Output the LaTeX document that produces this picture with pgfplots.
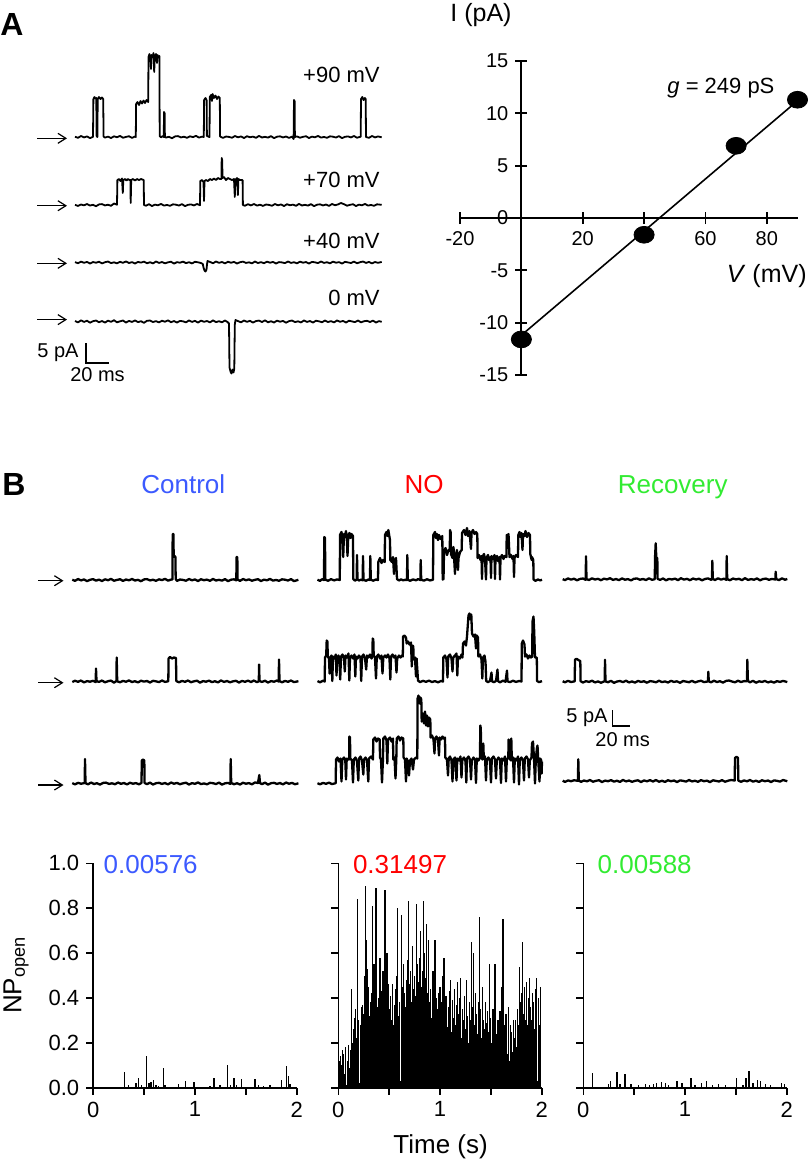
\documentclass[border=0pt]{standalone}
\usepackage{fontspec}
\setmainfont{Liberation Sans}
\usepackage{pgfplots}
\pgfplotsset{compat=1.18}
\usetikzlibrary{arrows.meta}
\definecolor{cblue}{RGB}{60,90,255}
\definecolor{cred}{RGB}{255,0,0}
\definecolor{cgreen}{RGB}{50,235,50}
\pgfplotsset{
  trA/.style={black, line width=0.9pt, line join=round, mark=none},
  trB/.style={black, line width=1.15pt, line join=round, mark=none},
  barax/.style={scale only axis, width=101.7pt, height=112.2pt, anchor=south west,
    xmin=0, xmax=2, ymin=0, ymax=1, enlargelimits=false, clip=false,
    axis x line*=bottom, axis y line*=left, axis line style={line width=0.8pt},
    tick align=outside, major tick length=3.5pt, tick style={black, line width=0.8pt},
    xtick={0,0.5,1,1.5,2}, xticklabels={0,,1,,2}, ytick={0,0.2,0.4,0.6,0.8,1},
    ticklabel style={font=\fontsize{11}{13}\selectfont},
    /pgf/number format/assume math mode=true,
    yticklabel style={/pgf/number format/fixed, /pgf/number format/fixed zerofill, /pgf/number format/precision=1}},
  bars/.style={ycomb, black, line width=0.7pt, mark=none},
}
\tikzset{arr/.style={line width=0.6pt, -{Straight Barb[length=4pt,width=5pt]}}}
\begin{document}
\begin{tikzpicture}[x=0.5pt,y=-0.5pt]
\useasboundingbox (0,0) rectangle (809,1164);

\begin{axis}[at={(0pt,0pt)}, anchor=north west, scale only axis, width=404.5pt, height=582pt,
  xmin=0, xmax=809, ymin=0, ymax=1164, y dir=reverse, hide axis, clip=false, enlargelimits=false]
% ---------- Panel A traces ----------
\addplot[trA] table[row sep=\\, x=x, y expr={137-(\thisrow{o})}] {x o\\
75 0.3\\ 78 -0.8\\ 81 1.0\\ 84 -0.4\\ 87 0.6\\ 90 -1.1\\ 93 0.2\\ 93.4 38\\ 94.5 40\\ 95.5 38.5\\ 96.3 39\\ 96.6 1\\ 97.4 0\\ 97.7 38\\ 99 40\\ 100.5 38\\ 102 39.5\\ 103.2 38\\ 103.6 0.5\\ 105 -0.6\\ 108 0.4\\ 111 -1.0\\ 114 0.7\\ 117 -0.2\\ 120 1.1\\ 123 -0.7\\ 126 0.1\\ 129 0.8\\ 132 -0.9\\ 135 0.5\\ 135.8 0\\ 136.1 33\\ 137.5 35\\ 139 32\\ 140.5 36\\ 142 33.5\\ 143.5 36.5\\ 145 34\\ 146.5 37\\ 148.2 35\\ 148.5 80\\ 149.5 83\\ 150.5 78\\ 151 68\\ 151.5 82\\ 152.5 80\\ 153.5 84\\ 154.2 65\\ 154.8 81\\ 156 83\\ 157 74\\ 157.6 82\\ 158.5 80\\ 159.4 81\\ 159.7 1\\ 161 -0.3\\ 162.5 0.8\\ 163.8 0\\ 164 25\\ 164.6 24\\ 164.9 0\\ 166 -0.5\\ 169 0.2\\ 172 -1.2\\ 175 0.6\\ 178 0.9\\ 181 -0.4\\ 184 0.3\\ 187 -0.8\\ 190 0.7\\ 193 -0.1\\ 196 1.2\\ 199 -0.6\\ 202 0.4\\ 203.8 0\\ 204.1 37\\ 205.5 39\\ 206.6 37\\ 206.9 1\\ 209.5 0\\ 209.8 40\\ 211 42\\ 212 36\\ 212.6 43\\ 214 39\\ 215.5 41.5\\ 217 38\\ 218.5 40.5\\ 219.8 39\\ 220.1 0.5\\ 223 -0.9\\ 226 0.5\\ 229 0.1\\ 232 -0.7\\ 235 1.0\\ 238 -0.3\\ 241 0.6\\ 244 -1.0\\ 247 0.8\\ 250 -0.2\\ 253 0.4\\ 256 -0.8\\ 259 1.1\\ 262 -0.5\\ 265 0.2\\ 268 -0.6\\ 271 0.9\\ 274 -1.1\\ 277 0.3\\ 280 0.7\\ 283 -0.4\\ 286 0.5\\ 289 -0.9\\ 292 0.4\\ 293.6 -2\\ 294 37\\ 294.6 36\\ 294.9 0\\ 297 0.6\\ 300 -0.7\\ 303 0.2\\ 306 0.8\\ 309 -1.0\\ 312 0.4\\ 315 -0.3\\ 318 1.1\\ 321 -0.6\\ 324 0.1\\ 327 -0.8\\ 330 0.7\\ 333 0.3\\ 336 -0.5\\ 339 0.9\\ 342 -1.1\\ 345 0.2\\ 348 0.6\\ 351 -0.4\\ 354 1.0\\ 357 -0.7\\ 360.7 0.3\\ 361 38\\ 362.3 40\\ 363.5 37\\ 364.8 39\\ 365.7 38\\ 366 0\\ 369 -0.8\\ 372 1.0\\ 375 -0.4\\ 378 0.6\\ 381.7 -0.3\\
};
\addplot[trA] table[row sep=\\, x=x, y expr={205-(\thisrow{o})}] {x o\\
75 0.2\\ 78 -0.9\\ 81 0.5\\ 84 -0.3\\ 87 1.0\\ 90 -0.5\\ 93 0.2\\ 96 -1.2\\ 99 0.6\\ 102 0.9\\ 105 -0.4\\ 108 0.3\\ 111 -0.8\\ 114 1.5\\ 117 0.3\\ 117.4 25\\ 119 26\\ 120.5 24\\ 122 26.5\\ 122.8 12\\ 123.3 25\\ 125 26\\ 126.5 24.5\\ 128 26\\ 129.5 25\\ 130.4 25\\ 130.7 2\\ 131.2 25\\ 133 26\\ 135 24.5\\ 137 26\\ 139 25\\ 141 26\\ 143.7 25\\ 144 0\\ 146 -0.7\\ 149 0.8\\ 152 -1.0\\ 155 0.4\\ 158 -0.3\\ 161 1.1\\ 164 -0.6\\ 167 0.1\\ 170 -0.8\\ 173 0.7\\ 176 0.3\\ 179 -0.5\\ 182 0.9\\ 185 -1.1\\ 188 0.2\\ 191 0.6\\ 194 -0.4\\ 197 1.0\\ 200 -0.2\\ 200.3 24\\ 202 25\\ 203.5 23\\ 204 4\\ 204.5 24\\ 206 25\\ 208 24\\ 210 26\\ 212 25\\ 214 26.5\\ 216 25\\ 218 27\\ 220 26\\ 221.4 26\\ 221.7 47\\ 222.2 45\\ 222.5 27\\ 224 28\\ 226 25\\ 228 27\\ 230 26\\ 232 25\\ 234 26\\ 234.8 8\\ 235.3 25\\ 237 27\\ 237.9 10\\ 238.4 26\\ 240 25\\ 242.6 25\\ 242.9 0\\ 245 -0.7\\ 248 0.8\\ 251 -0.4\\ 254 1.0\\ 257 -0.6\\ 260 0.3\\ 263 -0.9\\ 266 0.5\\ 269 0.1\\ 272 -0.7\\ 275 1.0\\ 278 -0.3\\ 281 0.6\\ 284 -1.0\\ 287 0.8\\ 290 -0.2\\ 293 0.4\\ 296 -0.8\\ 299 1.1\\ 302 -0.5\\ 305 0.2\\ 308 -0.6\\ 311 0.9\\ 314 -1.1\\ 317 0.3\\ 320 0.7\\ 323 -0.4\\ 326 0.5\\ 329 -0.9\\ 332 1.0\\ 335 -0.2\\ 338 0.6\\ 341 2.0\\ 344 0.8\\ 347 -0.7\\ 350 0.2\\ 353 0.8\\ 356 -1.0\\ 359 0.4\\ 362 -0.3\\ 365 1.1\\ 368 -0.6\\ 371 0.1\\ 374 -0.8\\ 377 0.7\\ 381.7 0.2\\
};
\addplot[trA] table[row sep=\\, x=x, y expr={262.5-(\thisrow{o})}] {x o\\
75 0.4\\ 78 -0.7\\ 81 0.9\\ 84 -0.3\\ 87 0.6\\ 90 -1.0\\ 93 0.5\\ 96 -0.2\\ 99 0.8\\ 102 -0.9\\ 105 0.3\\ 108 1.0\\ 111 -0.6\\ 114 0.2\\ 117 -0.8\\ 120 0.7\\ 123 -0.3\\ 126 1.1\\ 129 -0.5\\ 132 0.4\\ 135 -1.0\\ 138 0.6\\ 141 -0.1\\ 144 0.9\\ 147 -0.7\\ 150 0.3\\ 153 -0.9\\ 156 1.0\\ 159 -0.4\\ 162 0.5\\ 165 -0.8\\ 168 0.2\\ 171 0.8\\ 174 -1.1\\ 177 0.4\\ 180 -0.2\\ 183 0.9\\ 186 -0.6\\ 189 0.3\\ 192 -0.9\\ 195 0.7\\ 198 0.2\\ 201 -0.5\\ 202.8 -1.5\\ 203.5 -5\\ 204.5 -8\\ 205.5 -9\\ 206.5 -7\\ 207 -2\\ 207.5 1.5\\ 210 0.6\\ 213 -0.7\\ 216 1.0\\ 219 -0.3\\ 222 0.5\\ 225 -0.9\\ 228 0.8\\ 231 -0.2\\ 234 0.6\\ 237 -1.0\\ 240 0.3\\ 243 0.9\\ 246 -0.4\\ 249 0.2\\ 252 -0.8\\ 255 1.0\\ 258 -0.5\\ 261 0.4\\ 264 -0.7\\ 267 0.9\\ 270 -0.2\\ 273 0.6\\ 276 -1.0\\ 279 0.4\\ 282 0.1\\ 285 -0.6\\ 288 1.0\\ 291 -0.4\\ 294 0.3\\ 297 -0.8\\ 300 0.9\\ 303 -0.2\\ 306 0.5\\ 309 -1.0\\ 312 0.6\\ 315 0.2\\ 318 -0.6\\ 321 1.0\\ 324 -0.4\\ 327 0.3\\ 330 -0.8\\ 333 0.9\\ 336 -0.2\\ 339 0.4\\ 342 -1.1\\ 345 0.7\\ 348 0.1\\ 351 -0.5\\ 354 0.9\\ 357 -0.7\\ 360 0.3\\ 363 1.0\\ 366 -0.4\\ 369 0.6\\ 372 -0.9\\ 375 0.5\\ 378 -0.3\\ 381.7 0.6\\
};
\addplot[trA] table[row sep=\\, x=x, y expr={321.5-(\thisrow{o})}] {x o\\
75 0.5\\ 78 -0.9\\ 81 1.2\\ 84 -0.4\\ 87 0.8\\ 90 -1.2\\ 93 0.3\\ 96 1.0\\ 99 -0.7\\ 102 0.5\\ 105 -1.1\\ 108 0.9\\ 111 -0.3\\ 114 1.3\\ 117 -0.8\\ 120 0.2\\ 123 1.0\\ 126 -1.0\\ 129 0.6\\ 132 -0.4\\ 135 1.1\\ 138 -0.6\\ 141 0.3\\ 144 -1.3\\ 147 0.7\\ 150 1.0\\ 153 -0.5\\ 156 0.4\\ 159 -0.9\\ 162 0.8\\ 165 -0.2\\ 168 1.2\\ 171 -0.7\\ 174 0.5\\ 177 -1.0\\ 180 0.6\\ 183 0.2\\ 186 -0.8\\ 189 1.1\\ 192 -0.4\\ 195 0.7\\ 198 -1.1\\ 201 0.9\\ 204 -0.3\\ 207 0.5\\ 210 -0.9\\ 213 1.2\\ 216 -0.6\\ 219 0.3\\ 222 -0.7\\ 225 1.0\\ 227.5 -0.5\\ 229 -2\\ 229.5 -46\\ 230.5 -50\\ 231.5 -52\\ 232.5 -48\\ 233.5 -51\\ 234.3 -47\\ 234.8 -3\\ 235.5 1.5\\ 238 0.4\\ 241 -0.8\\ 244 1.0\\ 247 -0.3\\ 250 0.7\\ 253 -1.1\\ 256 0.5\\ 259 0.9\\ 262 -0.5\\ 265 1.2\\ 268 -0.8\\ 271 0.3\\ 274 -1.0\\ 277 0.9\\ 280 -0.2\\ 283 0.6\\ 286 -1.2\\ 289 0.4\\ 292 1.0\\ 295 -0.6\\ 298 0.2\\ 301 -0.9\\ 304 1.1\\ 307 -0.4\\ 310 0.5\\ 313 -1.0\\ 316 0.8\\ 319 0.2\\ 322 -0.7\\ 325 1.0\\ 328 -0.5\\ 331 0.4\\ 334 -0.9\\ 337 1.1\\ 340 -0.3\\ 343 0.6\\ 346 -1.0\\ 349 0.8\\ 352 0.1\\ 355 -0.6\\ 358 1.0\\ 361 -0.8\\ 364 0.3\\ 367 0.7\\ 370 -0.5\\ 373 0.9\\ 376 -1.0\\ 379 0.4\\ 381.7 -0.3\\
};
% ---------- Panel B traces: Control ----------
\addplot[trB] table[row sep=\\, x=x, y expr={580-(\thisrow{o})}] {x o\\
72.3 0.3\\ 75 -0.8\\ 78 1.0\\ 81 -0.4\\ 84 0.6\\ 87 -1.1\\ 90 0.2\\ 93 0.9\\ 96 -0.6\\ 99 0.4\\ 102 -1.0\\ 105 0.7\\ 108 -0.2\\ 111 1.1\\ 114 -0.7\\ 117 0.1\\ 120 0.8\\ 123 -0.9\\ 126 0.5\\ 129 -0.3\\ 132 1.0\\ 135 -0.5\\ 138 0.2\\ 141 -1.2\\ 144 0.6\\ 147 0.9\\ 150 -0.4\\ 153 0.3\\ 156 -0.8\\ 159 0.7\\ 162 -0.1\\ 165 1.2\\ 168 -0.6\\ 171 0.4\\ 172.4 0.5\\ 172.7 46\\ 173.4 46\\ 173.7 23\\ 174.5 24\\ 175.4 23\\ 175.7 1\\ 177 -0.9\\ 180 0.5\\ 183 0.1\\ 186 -0.7\\ 189 1.0\\ 192 -0.3\\ 195 0.6\\ 198 -1.0\\ 201 0.8\\ 204 -0.2\\ 207 0.4\\ 210 -0.8\\ 213 1.1\\ 216 -0.5\\ 219 0.2\\ 222 -0.6\\ 225 0.9\\ 228 -1.1\\ 231 0.3\\ 234 0.7\\ 236.3 -0.4\\ 236.6 23\\ 237.3 23\\ 237.6 0.5\\ 240 -0.9\\ 243 1.0\\ 246 -0.2\\ 249 0.6\\ 252 -0.7\\ 255 0.2\\ 258 0.8\\ 261 -1.0\\ 264 0.4\\ 267 -0.3\\ 270 1.1\\ 273 -0.6\\ 276 0.1\\ 279 -0.8\\ 282 0.7\\ 285 0.3\\ 288 -0.5\\ 291 0.9\\ 294 -1.1\\ 298.4 0.2\\
};
\addplot[trB] table[row sep=\\, x=x, y expr={681.5-(\thisrow{o})}] {x o\\
72.3 -0.5\\ 75 0.8\\ 78 -0.3\\ 81 1.0\\ 84 -0.9\\ 87 0.4\\ 90 -0.2\\ 93 0.7\\ 95.7 -0.6\\ 96 13\\ 96.5 0.5\\ 99 -0.4\\ 102 1.0\\ 105 -0.8\\ 108 0.3\\ 111 0.9\\ 114 -1.1\\ 116.4 0.5\\ 116.7 24\\ 117.2 0.2\\ 120 -0.7\\ 123 0.6\\ 126 -0.2\\ 129 1.1\\ 132 -0.5\\ 135 0.3\\ 138 -0.9\\ 141 0.8\\ 144 -0.1\\ 147 0.5\\ 150 -1.0\\ 153 0.7\\ 156 0.2\\ 159 -0.6\\ 162 1.0\\ 165 -0.4\\ 168.3 0.3\\ 168.6 23\\ 170 24.5\\ 172 23\\ 174 24\\ 176 23.5\\ 176.3 0.5\\ 179 -0.8\\ 182 0.6\\ 185 -0.3\\ 188 1.0\\ 191 -0.7\\ 194 0.2\\ 197 0.8\\ 200 -1.1\\ 203 0.4\\ 206 -0.2\\ 209 0.9\\ 212 -0.6\\ 215 0.3\\ 218 -0.9\\ 221 1.1\\ 224 -0.4\\ 227 0.5\\ 230 -0.8\\ 233 0.2\\ 236 0.7\\ 239 -1.0\\ 242 0.6\\ 245 -0.3\\ 248 0.9\\ 251 -0.5\\ 254 1.0\\ 257 -0.7\\ 258.8 0.3\\ 259.1 17\\ 259.5 0.5\\ 262 -0.4\\ 265 0.8\\ 268 -1.0\\ 271 0.4\\ 274 -0.2\\ 277 1.0\\ 278.7 0\\ 279 22\\ 279.5 0.5\\ 282 -0.8\\ 285 0.6\\ 288 -0.3\\ 291 1.0\\ 294 -0.6\\ 298.4 0.3\\
};
\addplot[trB] table[row sep=\\, x=x, y expr={783.5-(\thisrow{o})}] {x o\\
72.3 0.4\\ 75 -0.9\\ 78 0.7\\ 81 -0.2\\ 84.7 0.5\\ 85 24.5\\ 85.5 0.4\\ 88 -0.8\\ 91 1.0\\ 94 -0.5\\ 97 0.3\\ 100 -1.1\\ 103 0.6\\ 106 0.9\\ 109 -0.4\\ 112 0.2\\ 115 -0.7\\ 118 1.0\\ 121 -0.3\\ 124 0.5\\ 127 -0.9\\ 130 0.8\\ 133 -0.2\\ 136 0.4\\ 139 -0.8\\ 141.5 0.6\\ 141.8 23\\ 143 24\\ 144.3 23\\ 144.6 0.5\\ 147 -0.6\\ 150 0.9\\ 153 -1.0\\ 156 0.3\\ 159 0.7\\ 162 -0.4\\ 165 0.5\\ 168 -0.9\\ 171 1.0\\ 174 -0.2\\ 177 0.6\\ 180 -0.7\\ 183 0.2\\ 186 0.8\\ 189 -1.0\\ 192 0.4\\ 195 -0.3\\ 198 1.1\\ 201 -0.6\\ 204 0.1\\ 207 -0.8\\ 210 0.7\\ 213 0.3\\ 216 -0.5\\ 219 0.9\\ 222 -1.1\\ 225 0.2\\ 228 0.6\\ 230.4 -0.4\\ 230.7 24.5\\ 231.2 0.6\\ 234 -0.7\\ 237 0.3\\ 240 -1.0\\ 243 0.8\\ 246 -0.2\\ 249 0.4\\ 252 -0.8\\ 255 1.1\\ 258 0.5\\ 259.3 8.5\\ 260 0.4\\ 262 -0.6\\ 265 0.9\\ 268 -1.1\\ 271 0.3\\ 274 0.7\\ 277 -0.4\\ 280 0.5\\ 283 -0.9\\ 286 1.0\\ 289 -0.2\\ 292 0.6\\ 295 -0.7\\ 298.4 0.2\\
};
% ---------- NO ----------
\addplot[trB] table[row sep=\\, x=x, y expr={580-(\thisrow{o})}] {x o\\
317.5 0.3\\ 320 -0.9\\ 322 0.8\\ 324 0\\ 324.3 43\\ 325 42\\ 325.3 0.5\\ 328 -0.8\\ 331 0.9\\ 334 -0.4\\ 337 0.6\\ 339.8 0\\ 340 45\\ 341.5 48\\ 342.5 40\\ 343.2 23\\ 344 46\\ 345 44\\ 346 49\\ 347 38\\ 347.5 24\\ 348.3 45\\ 349.5 47\\ 350.5 42\\ 351.5 46\\ 353 44\\ 353.3 1\\ 355 -0.6\\ 356.7 0.5\\ 357 25\\ 357.5 0.5\\ 359 -0.5\\ 361 0.4\\ 362.7 -0.3\\ 363 24\\ 363.5 0.3\\ 366 -0.8\\ 368.5 0.6\\ 370 0\\ 370.3 24\\ 370.8 0.5\\ 373 -0.7\\ 376 0.5\\ 378 0\\ 378.3 18\\ 380 22\\ 381.5 17\\ 383 20\\ 384.7 18\\ 385 45\\ 386.5 48\\ 387.5 44\\ 388.3 50\\ 389 46\\ 390 40\\ 390.3 20\\ 392 18\\ 393 23\\ 394 6\\ 394.5 19\\ 396 22\\ 397 1\\ 399 -0.5\\ 401 0.7\\ 403 -0.3\\ 405 0.2\\ 407 0\\ 407.3 25\\ 407.8 0.3\\ 410 -0.8\\ 413 0.6\\ 416 -0.3\\ 418 0.9\\ 420.4 0\\ 420.7 20\\ 421.2 0.3\\ 424 -0.6\\ 427 0.8\\ 430 -0.4\\ 433 0.3\\ 433.3 45\\ 435 48\\ 436 42\\ 437 46\\ 438 40\\ 439 45\\ 440.5 41\\ 442.3 44\\ 442.7 0.5\\ 443.5 1\\ 444 28\\ 445.5 32\\ 447 25\\ 448.5 30\\ 449.8 29\\ 450 50\\ 450.6 48\\ 451 26\\ 452.5 22\\ 453.5 33\\ 455 6\\ 455.5 24\\ 457 30\\ 458 10\\ 458.5 22\\ 460 28\\ 461.7 30\\ 462 47\\ 464 50\\ 465.5 45\\ 467 52\\ 468 44\\ 469.5 49\\ 471 31\\ 471.5 47\\ 473 50\\ 474.5 46\\ 476 48\\ 477.3 46\\ 477.6 22\\ 479 25\\ 480.5 20\\ 481.5 24\\ 482 1\\ 482.5 23\\ 484 26\\ 485 21\\ 486 0.5\\ 486.5 22\\ 488 25\\ 489 20\\ 490.5 23\\ 491 2\\ 491.5 24\\ 493 21\\ 494.5 25\\ 495 1\\ 495.5 22\\ 497 24\\ 498 19\\ 499.5 23\\ 500 0.5\\ 500.5 22\\ 502 25\\ 503.5 21\\ 504.5 24\\ 506.5 23\\ 506.7 45\\ 507.5 44\\ 508.5 46\\ 509.5 23\\ 511 25\\ 512.5 21\\ 513.5 24\\ 514 3\\ 514.5 22\\ 516 25\\ 518 23\\ 518.3 45\\ 519.5 48\\ 520.5 43\\ 521.5 47\\ 522.5 30\\ 523 46\\ 524.5 44\\ 525.5 49\\ 527 43\\ 528.5 47\\ 530 45\\ 530.3 26\\ 531.7 20\\ 532 23\\ 533.3 20\\ 533.6 0.5\\ 535.5 -0.8\\ 538 0.6\\ 540 -0.4\\ 542 0.3\\
};
\addplot[trB] table[row sep=\\, x=x, y expr={681.5-(\thisrow{o})}] {x o\\
317.5 0.4\\ 320 -0.7\\ 323 0.8\\ 324.7 0\\ 325 24\\ 326.2 26\\ 326.7 41\\ 327.4 40\\ 327.8 25\\ 329 23\\ 329.6 8\\ 330.2 24\\ 331.5 26\\ 332.3 0.5\\ 333 25\\ 334.5 23\\ 335.8 27\\ 336.5 6\\ 337.2 24\\ 338.5 26\\ 339.5 22\\ 340.2 2\\ 341 25\\ 342.5 27\\ 344 23\\ 344.8 10\\ 345.5 26\\ 347 24\\ 348.5 28\\ 349.3 1\\ 350 24\\ 351.5 26\\ 353 23\\ 354.5 27\\ 355.3 5\\ 356 25\\ 357.5 23\\ 359 26\\ 360.5 24\\ 361.2 0.5\\ 362 25\\ 363.5 27\\ 365 23\\ 366.2 12\\ 367 26\\ 368.5 24\\ 370 27\\ 371.5 23\\ 372.4 25\\ 372.7 43\\ 373.3 42\\ 373.7 26\\ 375 24\\ 376 3\\ 376.8 25\\ 378.3 27\\ 380 23\\ 381.5 26\\ 382.5 8\\ 383.3 24\\ 385 26\\ 386.5 24\\ 388 27\\ 389.5 23\\ 390.3 2\\ 391 25\\ 392.5 27\\ 394 24\\ 395.5 26\\ 396.5 9\\ 397.2 23\\ 399 26\\ 400.5 24\\ 402 26\\ 402.8 25\\ 403.1 45\\ 404.5 46\\ 406 44\\ 406.7 38\\ 408 40\\ 409.5 37\\ 411 39\\ 411.8 15\\ 412.5 36\\ 413.3 35\\ 413.6 22\\ 415 24\\ 416 5\\ 416.6 23\\ 418 1\\ 420 -0.6\\ 423 0.7\\ 426 -0.3\\ 429 0.9\\ 432 -0.5\\ 435 0.4\\ 438 -0.8\\ 441 0.5\\ 443 0\\ 443.3 24\\ 445 26\\ 446.5 22\\ 447.5 4\\ 448.2 25\\ 450 27\\ 451.5 23\\ 452.5 10\\ 453.2 24\\ 455 26\\ 456.5 28\\ 457.3 6\\ 458 25\\ 460 23\\ 461.5 27\\ 462.5 24\\ 463 38\\ 464.5 40\\ 466 36\\ 467 45\\ 468.5 66\\ 469.5 68\\ 470.5 62\\ 471.3 67\\ 472 48\\ 473.5 45\\ 475 47\\ 476 33\\ 476.8 46\\ 478 44\\ 478.4 25\\ 480 27\\ 481.5 22\\ 482.3 3\\ 483 24\\ 484.5 26\\ 485.5 20\\ 486.2 0.5\\ 488 -0.6\\ 490 0.5\\ 491.5 9\\ 492 0.3\\ 494 -0.7\\ 496 0.6\\ 497.5 12\\ 498 0.4\\ 500 -0.8\\ 503 0.9\\ 505.5 -0.3\\ 507 11\\ 507.5 0.2\\ 510 -0.6\\ 513 0.8\\ 516 -0.4\\ 519 0.5\\ 521.5 0\\ 521.8 38\\ 523 41\\ 524.5 37\\ 525 25\\ 526.5 27\\ 528 23\\ 529.5 26\\ 531 24\\ 532.2 25\\ 532.5 60\\ 533.5 65\\ 534.2 50\\ 535 24\\ 536.8 24\\ 537.1 0.5\\ 539 -0.6\\ 542 0.4\\
};
\addplot[trB] table[row sep=\\, x=x, y expr={783.5-(\thisrow{o})}] {x o\\
317.5 0.3\\ 320 -0.8\\ 323 0.6\\ 326 -0.3\\ 329 0.9\\ 332 -0.6\\ 335.7 0.4\\ 336 24\\ 337.5 26\\ 339 22\\ 340.5 25\\ 341.5 2\\ 342.3 24\\ 344 26\\ 345.3 23\\ 346 4\\ 346.7 25\\ 348.5 24\\ 349.2 24\\ 349.4 47\\ 350 46\\ 350.3 25\\ 352 23\\ 353 1\\ 353.8 24\\ 355.5 26\\ 357 22\\ 358.3 3\\ 359 25\\ 360.5 27\\ 362 23\\ 363.3 9\\ 364 24\\ 365.5 26\\ 367 23\\ 368.3 2\\ 369 25\\ 371 27\\ 373 24\\ 373.3 44\\ 375 46\\ 376.5 42\\ 378 45\\ 379.7 44\\ 380 26\\ 381 24\\ 382 1\\ 383 25\\ 383.3 45\\ 385 47\\ 386.5 43\\ 387.3 20\\ 388 44\\ 390 46\\ 391.5 42\\ 393 45\\ 393.3 24\\ 394.5 26\\ 395.5 5\\ 396.3 24\\ 396.7 45\\ 398.5 47\\ 400 43\\ 401.5 46\\ 403.3 45\\ 403.6 26\\ 405 24\\ 406 2\\ 406.7 25\\ 408 22\\ 409 8\\ 410 23\\ 411.5 25\\ 413 14\\ 414 24\\ 416 26\\ 417.3 25\\ 417.6 85\\ 418.5 88\\ 419.5 80\\ 420.5 86\\ 421.3 84\\ 421.7 62\\ 423 70\\ 424 60\\ 425 72\\ 426 58\\ 427 68\\ 428 57\\ 429 66\\ 430.3 64\\ 430.6 46\\ 432 48\\ 433.5 44\\ 434.5 30\\ 435 45\\ 436.5 47\\ 438 43\\ 439 28\\ 439.6 46\\ 441 44\\ 442.5 47\\ 443.5 45\\ 445 46\\ 445.3 26\\ 447 24\\ 448 8\\ 448.7 25\\ 450 27\\ 451.5 23\\ 452.5 2\\ 453.3 24\\ 455 26\\ 456.5 3\\ 457.3 25\\ 459 23\\ 460.5 27\\ 461.5 6\\ 462.3 24\\ 464 26\\ 465.5 22\\ 466.3 1\\ 467 25\\ 468.5 27\\ 470 24\\ 471 4\\ 471.8 23\\ 473.5 26\\ 475 24\\ 476 0.5\\ 476.8 25\\ 478.5 23\\ 480 26\\ 480.3 58\\ 480.8 55\\ 481.2 26\\ 482.5 24\\ 483.3 40\\ 483.8 25\\ 485 27\\ 486 3\\ 486.8 24\\ 488.5 26\\ 490 22\\ 491 1\\ 491.8 25\\ 493.5 27\\ 495 24\\ 496 5\\ 496.8 23\\ 498.5 26\\ 500 24\\ 501 0.5\\ 501.8 25\\ 503.5 23\\ 505 27\\ 506 2\\ 506.8 24\\ 508.3 26\\ 508.6 44\\ 509.2 42\\ 509.6 25\\ 511 23\\ 511.3 45\\ 511.8 24\\ 513 26\\ 514 1\\ 514.8 25\\ 516.5 23\\ 518 27\\ 519 -1\\ 519.8 24\\ 521.5 26\\ 523 22\\ 524 3\\ 524.8 25\\ 526.5 27\\ 528 24\\ 529 6\\ 529.8 23\\ 531.5 26\\ 532 40\\ 533 42\\ 534 25\\ 535 0\\ 535.8 24\\ 537 36\\ 537.5 38\\ 538.2 24\\ 539.5 2\\ 540.2 25\\ 541.3 23\\ 541.6 10\\ 542 22\\
};
% ---------- Recovery ----------
\addplot[trB] table[row sep=\\, x=x, y expr={579.3-(\thisrow{o})}] {x o\\
562.7 0.2\\ 565 -0.8\\ 568 0.9\\ 571 -0.3\\ 574 0.6\\ 577 -1.0\\ 580 0.4\\ 583 0.8\\ 585.7 -0.5\\ 586 23\\ 586.5 0.3\\ 589 -0.7\\ 592 1.0\\ 595 -0.2\\ 598 0.5\\ 601 -0.9\\ 604 0.7\\ 607 -0.1\\ 610 1.1\\ 613 -0.6\\ 616 0.3\\ 619 -0.8\\ 622 0.9\\ 625 -0.4\\ 628 0.2\\ 631 -1.1\\ 634 0.6\\ 637 0.8\\ 640 -0.4\\ 643 0.3\\ 646 -0.7\\ 649 1.0\\ 652 -0.5\\ 654.8 0.2\\ 655 21\\ 655.7 36\\ 656.3 22\\ 657.3 21\\ 657.6 0.5\\ 660 -0.6\\ 663 0.9\\ 666 -1.0\\ 669 0.4\\ 672 -0.2\\ 675 0.7\\ 678 -0.8\\ 681 1.1\\ 684 -0.3\\ 687 0.5\\ 690 -0.9\\ 693 0.8\\ 696 -0.2\\ 699 0.6\\ 702 -1.0\\ 705 0.3\\ 708 0.9\\ 711 -0.4\\ 712 0\\ 712.3 18.6\\ 712.8 0.4\\ 715 -0.7\\ 718 1.0\\ 721 -0.3\\ 724 0.6\\ 726.4 -0.5\\ 726.7 23.3\\ 727.2 0.2\\ 730 -0.9\\ 733 0.8\\ 736 -0.1\\ 739 0.5\\ 742 -0.8\\ 745 1.1\\ 748 -0.6\\ 751 0.2\\ 754 -0.4\\ 757 0.9\\ 760 -1.0\\ 763 0.3\\ 766 0.7\\ 769 -0.5\\ 772 0.4\\ 775.4 -0.2\\ 775.7 7.6\\ 776.2 0.3\\ 779 -0.8\\ 782 1.0\\ 785 -0.4\\ 787.3 0.3\\
};
\addplot[trB] table[row sep=\\, x=x, y expr={681.7-(\thisrow{o})}] {x o\\
562.7 0.5\\ 565 -0.6\\ 568 0.9\\ 571 -0.3\\ 574.7 0.4\\ 575 22\\ 576.5 23\\ 578 22\\ 579.5 21\\ 580.3 21\\ 580.6 0.5\\ 583 -0.8\\ 586 0.6\\ 589 -0.2\\ 592 1.0\\ 595 -0.7\\ 598 0.3\\ 601 -1.0\\ 604.7 0.5\\ 605 22\\ 605.5 0.3\\ 608 -0.5\\ 611 0.9\\ 614 -1.1\\ 617 0.2\\ 620 0.7\\ 623 -0.4\\ 626 1.0\\ 629 -0.7\\ 632 0.3\\ 635 -0.9\\ 638 0.8\\ 641 -0.2\\ 644 0.5\\ 647 -1.0\\ 650 0.6\\ 653 0.2\\ 656 -0.6\\ 659 1.0\\ 662 -0.4\\ 665 0.3\\ 668 -0.8\\ 671 0.9\\ 674 -0.2\\ 677 0.4\\ 680 -1.1\\ 683 0.7\\ 686 0.1\\ 689 -0.5\\ 692 0.9\\ 695 -0.7\\ 698 0.3\\ 701 1.0\\ 704 -0.4\\ 708 0.3\\ 708.3 10\\ 708.8 0.4\\ 711 -0.6\\ 714 1.0\\ 717 -0.3\\ 720 0.5\\ 723 -0.9\\ 726 0.8\\ 729 1.2\\ 732 0.2\\ 735 -0.6\\ 738 1.0\\ 741 -0.3\\ 744 0.6\\ 747 0.5\\ 747.3 22\\ 747.9 0.8\\ 750 -0.6\\ 753 0.9\\ 756 -1.0\\ 759 0.4\\ 762 -0.2\\ 765 0.8\\ 768 -0.7\\ 771 0.3\\ 774 -0.9\\ 777 0.6\\ 780 -0.2\\ 783 0.8\\ 787.3 -0.3\\
};
\addplot[trB] table[row sep=\\, x=x, y expr={781-(\thisrow{o})}] {x o\\
562.7 0.3\\ 565 -0.9\\ 568 0.6\\ 571 -0.2\\ 574 0.8\\ 577.9 0.2\\ 578.3 21.7\\ 578.8 0.4\\ 581 -0.8\\ 584 0.5\\ 587 -0.3\\ 590 1.0\\ 593 -0.7\\ 596 0.2\\ 599 0.8\\ 602 -1.0\\ 605 0.4\\ 608 -0.2\\ 611 0.9\\ 614 -0.6\\ 617 0.3\\ 620 -0.9\\ 623 1.1\\ 626 -0.4\\ 629 0.5\\ 632 -0.8\\ 635 0.2\\ 638 0.7\\ 641 -1.0\\ 644 0.6\\ 647 -0.3\\ 650 0.9\\ 653 -0.5\\ 656 1.0\\ 659 -0.7\\ 662 0.3\\ 665 -0.9\\ 668 0.8\\ 671 -0.2\\ 674 0.5\\ 677 -1.0\\ 680 0.6\\ 683 0.2\\ 686 -0.6\\ 689 1.0\\ 692 -0.4\\ 695 0.3\\ 698 -0.8\\ 701 0.9\\ 704 -0.2\\ 707 0.4\\ 710 -1.1\\ 713 0.7\\ 716 0.1\\ 719 -0.5\\ 722 0.9\\ 725 -0.7\\ 728 0.3\\ 731 1.0\\ 734.7 0.5\\ 735 23\\ 736.5 24.3\\ 738 23\\ 738.3 0.5\\ 741 -0.8\\ 744 0.6\\ 747 -0.3\\ 750 1.0\\ 753 -0.6\\ 756 0.3\\ 759 -0.9\\ 762 0.8\\ 765 -0.2\\ 768 0.5\\ 771 -1.0\\ 774 0.6\\ 777 0.2\\ 780 -0.6\\ 783 1.0\\ 787.3 -0.2\\
};
% ---------- scale bars ----------
\addplot[black, line width=0.8pt, mark=none] coordinates {(86,343) (86,363) (109,363)};
\addplot[black, line width=0.8pt, mark=none] coordinates {(612.3,710) (612.3,726) (630,726)};
% ---------- arrows ----------
\draw[arr] (axis cs:37,138.3) -- (axis cs:67,138.3);
\draw[arr] (axis cs:37,205.7) -- (axis cs:67,205.7);
\draw[arr] (axis cs:37,263.3) -- (axis cs:67,263.3);
\draw[arr] (axis cs:37,319.6) -- (axis cs:67,319.6);
\draw[arr] (axis cs:38,580.7) -- (axis cs:63.5,580.7);
\draw[arr] (axis cs:38,682.7) -- (axis cs:63.5,682.7);
\draw[arr] (axis cs:38,785) -- (axis cs:63.5,785);
\end{axis}

% ---------- I-V plot ----------
\begin{axis}[at={(230pt,-187.5pt)}, anchor=south west, scale only axis, width=168.75pt, height=157pt,
  xmin=-20, xmax=90, ymin=-15, ymax=15, enlargelimits=false, clip=false,
  axis lines=middle, axis line style={line width=0.9pt, -},
  xtick={-20,20,40,60,80}, xticklabels={-20,20,,60,80},
  ytick={-15,-10,-5,0,5,10,15}, hide obscured y ticks=false, hide obscured x ticks=false,
  tick align=center, major tick length=6pt, tick style={black, line width=0.9pt},
  ticklabel style={font=\fontsize{10}{12}\selectfont},
  /pgf/number format/assume math mode=true]
\addplot[black, line width=0.8pt, mark=none] coordinates {(0,-11.2) (90,11.2)};
\addplot[only marks, mark=*, mark size=4.2pt, mark options={xscale=1.2, fill=black, draw=black}] coordinates {(0,-11.6) (40,-1.6) (70,6.9) (90,11.3)};
\end{axis}

% ---------- NPopen bar plots ----------
\begin{axis}[barax, at={(46.65pt,-543.85pt)}]
\addplot[bars] table[row sep=\\] {t v\\
0.305 0.068\\ 0.344 0.01\\ 0.42 0.02\\ 0.443 0.045\\ 0.475 0.01\\ 0.525 0.14\\ 0.548 0.02\\ 0.567 0.025\\ 0.59 0.035\\ 0.616 0.01\\ 0.64 0.006\\ 0.69 0.09\\ 0.705 0.012\\ 0.836 0.015\\ 0.908 0.032\\ 0.99 0.025\\ 1.105 0.005\\ 1.148 0.006\\ 1.187 0.045\\ 1.246 0.01\\ 1.318 0.1\\ 1.35 0.01\\ 1.384 0.045\\ 1.41 0.012\\ 1.46 0.04\\ 1.59 0.038\\ 1.623 0.01\\ 1.672 0.008\\ 1.738 0.01\\ 1.852 0.035\\ 1.9 0.097\\ 1.918 0.05\\ 1.934 0.015\\
};
\end{axis}
\begin{axis}[barax, at={(169.15pt,-543.85pt)}, yticklabels={}]
\addplot[bars, line width=0.62pt] table[row sep=\\] {t v\\
0.00 0.16\\ 0.01 0.12\\ 0.02 0.14\\ 0.03 0.10\\ 0.04 0.17\\ 0.05 0.15\\ 0.06 0.06\\ 0.07 0.18\\ 0.08 0.01\\ 0.09 0.12\\
0.10 0.19\\ 0.11 0.09\\ 0.12 0.17\\ 0.13 0.44\\ 0.14 0.20\\ 0.15 0.26\\ 0.16 0.31\\ 0.17 0.35\\ 0.18 0.22\\ 0.19 0.84\\
0.20 0.30\\ 0.21 0.02\\ 0.22 0.28\\ 0.23 0.36\\ 0.24 0.37\\ 0.25 0.33\\ 0.26 0.50\\ 0.27 0.90\\ 0.28 0.66\\ 0.29 0.53\\
0.30 0.45\\ 0.31 0.32\\ 0.32 0.38\\ 0.33 0.42\\ 0.34 0.81\\ 0.35 0.55\\ 0.36 0.48\\ 0.37 0.89\\ 0.38 0.08\\ 0.39 0.36\\
0.40 0.40\\ 0.41 0.58\\ 0.42 0.43\\ 0.43 0.34\\ 0.44 0.52\\ 0.45 0.47\\ 0.46 0.88\\ 0.47 0.39\\ 0.48 0.60\\ 0.49 0.46\\
0.50 0.35\\ 0.51 0.41\\ 0.52 0.30\\ 0.53 0.46\\ 0.54 0.28\\ 0.55 0.37\\ 0.56 0.44\\ 0.57 0.50\\ 0.58 0.80\\ 0.59 0.32\\
0.60 0.38\\ 0.61 0.03\\ 0.62 0.77\\ 0.63 0.45\\ 0.64 0.55\\ 0.65 0.42\\ 0.66 0.36\\ 0.67 0.48\\ 0.68 0.57\\ 0.69 0.83\\
0.70 0.46\\ 0.71 0.52\\ 0.72 0.38\\ 0.73 0.63\\ 0.74 0.44\\ 0.75 0.50\\ 0.76 0.41\\ 0.77 0.82\\ 0.78 0.55\\ 0.79 0.47\\
0.80 0.58\\ 0.81 0.70\\ 0.82 0.45\\ 0.83 0.52\\ 0.84 0.83\\ 0.85 0.60\\ 0.86 0.49\\ 0.87 0.73\\ 0.88 0.42\\ 0.89 0.66\\
0.90 0.38\\ 0.91 0.44\\ 0.92 0.31\\ 0.93 0.52\\ 0.94 0.36\\ 0.95 0.66\\ 0.96 0.40\\ 0.97 0.35\\ 0.98 0.29\\ 0.99 0.42\\
1.00 0.45\\ 1.01 0.33\\ 1.02 0.38\\ 1.03 0.50\\ 1.04 0.58\\ 1.05 0.30\\ 1.06 0.41\\ 1.07 0.27\\ 1.08 0.36\\ 1.09 0.43\\
1.10 0.48\\ 1.11 0.25\\ 1.12 0.39\\ 1.13 0.31\\ 1.14 0.44\\ 1.15 0.28\\ 1.16 0.37\\ 1.17 0.47\\ 1.18 0.33\\ 1.19 0.40\\
1.20 0.49\\ 1.21 0.22\\ 1.22 0.35\\ 1.23 0.30\\ 1.24 0.41\\ 1.25 0.26\\ 1.26 0.48\\ 1.27 0.32\\ 1.28 0.20\\ 1.29 0.38\\
1.30 0.30\\ 1.31 0.65\\ 1.32 0.36\\ 1.33 0.60\\ 1.34 0.28\\ 1.35 0.42\\ 1.36 0.33\\ 1.37 0.24\\ 1.38 0.38\\ 1.39 0.76\\
1.40 0.35\\ 1.41 0.22\\ 1.42 0.45\\ 1.43 0.30\\ 1.44 0.26\\ 1.45 0.38\\ 1.46 0.29\\ 1.47 0.34\\ 1.48 0.25\\ 1.49 0.55\\
1.50 0.31\\ 1.51 0.20\\ 1.52 0.35\\ 1.53 0.27\\ 1.54 0.55\\ 1.55 0.24\\ 1.56 0.03\\ 1.57 0.30\\ 1.58 0.18\\ 1.59 0.34\\
1.60 0.22\\ 1.61 0.45\\ 1.62 0.75\\ 1.63 0.28\\ 1.64 0.19\\ 1.65 0.33\\ 1.66 0.15\\ 1.67 0.36\\ 1.68 0.12\\ 1.69 0.28\\
1.70 0.25\\ 1.71 0.16\\ 1.72 0.30\\ 1.73 0.22\\ 1.74 0.30\\ 1.75 0.18\\ 1.76 0.35\\ 1.77 0.28\\ 1.78 0.54\\ 1.79 0.38\\
1.80 0.42\\ 1.81 0.65\\ 1.82 0.33\\ 1.83 0.45\\ 1.84 0.30\\ 1.85 0.47\\ 1.86 0.28\\ 1.87 0.40\\ 1.88 0.49\\ 1.89 0.36\\
1.90 0.30\\ 1.91 0.42\\ 1.92 0.38\\ 1.93 0.26\\ 1.94 0.44\\ 1.95 0.49\\ 1.96 0.03\\ 1.97 0.40\\ 1.98 0.28\\ 1.99 0.45\\
};
\end{axis}
\begin{axis}[barax, at={(291.65pt,-543.85pt)}, yticklabels={}]
\addplot[bars] table[row sep=\\] {t v\\
0.09 0.064\\ 0.245 0.015\\ 0.27 0.03\\ 0.33 0.07\\ 0.36 0.015\\ 0.41 0.06\\ 0.47 0.015\\ 0.54 0.01\\ 0.61 0.015\\ 0.65 0.01\\ 0.69 0.015\\ 0.72 0.02\\ 0.77 0.025\\ 0.81 0.02\\ 0.84 0.01\\ 0.92 0.03\\ 0.97 0.02\\ 1.06 0.045\\ 1.10 0.01\\ 1.16 0.02\\ 1.21 0.03\\ 1.27 0.01\\ 1.33 0.015\\ 1.40 0.01\\ 1.505 0.045\\ 1.57 0.01\\ 1.60 0.045\\ 1.63 0.075\\ 1.67 0.02\\ 1.71 0.035\\ 1.745 0.03\\ 1.79 0.015\\ 1.84 0.01\\ 1.95 0.02\\ 1.98 0.015\\
};
\end{axis}

% ---------- texts ----------
\node[anchor=base west, inner sep=0, font=\fontsize{16}{16}\selectfont\bfseries] at (0,35) {A};
\node[anchor=base west, inner sep=0, font=\fontsize{16}{16}\selectfont\bfseries] at (2,495) {B};
\node[anchor=base east, inner sep=0, font=\fontsize{11}{13}\selectfont] at (380,82) {+90 mV};
\node[anchor=base east, inner sep=0, font=\fontsize{11}{13}\selectfont] at (380,187) {+70 mV};
\node[anchor=base east, inner sep=0, font=\fontsize{11}{13}\selectfont] at (380,248) {+40 mV};
\node[anchor=base east, inner sep=0, font=\fontsize{11}{13}\selectfont] at (380,305) {0 mV};
\node[anchor=base east, inner sep=0, font=\fontsize{10}{12}\selectfont] at (79,357) {5 pA};
\node[anchor=base, inner sep=0, font=\fontsize{10}{12}\selectfont] at (97.5,381) {20 ms};
\node[anchor=base east, inner sep=0, font=\fontsize{10}{12}\selectfont] at (608,722) {5 pA};
\node[anchor=base west, inner sep=0, font=\fontsize{10}{12}\selectfont] at (595,746) {20 ms};
\node[anchor=base west, inner sep=0, font=\fontsize{12.5}{14}\selectfont] at (450,21) {I (pA)};
\node[anchor=base east, inner sep=0, font=\fontsize{12.5}{14}\selectfont] at (807,282) {\textit{V} (mV)};
\node[anchor=base west, inner sep=0, font=\fontsize{11}{13}\selectfont] at (667,93) {\textit{g} = 249 pS};
\node[anchor=base, inner sep=0, font=\fontsize{13}{15}\selectfont, text=cblue] at (183.3,493) {Control};
\node[anchor=base, inner sep=0, font=\fontsize{13}{15}\selectfont, text=cred] at (424,493) {NO};
\node[anchor=base, inner sep=0, font=\fontsize{13}{15}\selectfont, text=cgreen] at (672.7,493) {Recovery};
\node[anchor=base west, inner sep=0, font=\fontsize{13}{15}\selectfont, text=cblue] at (103.3,873.3) {0.00576};
\node[anchor=base west, inner sep=0, font=\fontsize{13}{15}\selectfont, text=cred] at (352.6,873.3) {0.31497};
\node[anchor=base west, inner sep=0, font=\fontsize{13}{15}\selectfont, text=cgreen] at (597.3,873.3) {0.00588};
\node[rotate=90, inner sep=0, font=\fontsize{13}{15}\selectfont] at (16,975) {NP\textsubscript{open}};
\node[anchor=base, inner sep=0, font=\fontsize{13}{15}\selectfont] at (440.6,1153) {Time (s)};
\end{tikzpicture}
\end{document}
